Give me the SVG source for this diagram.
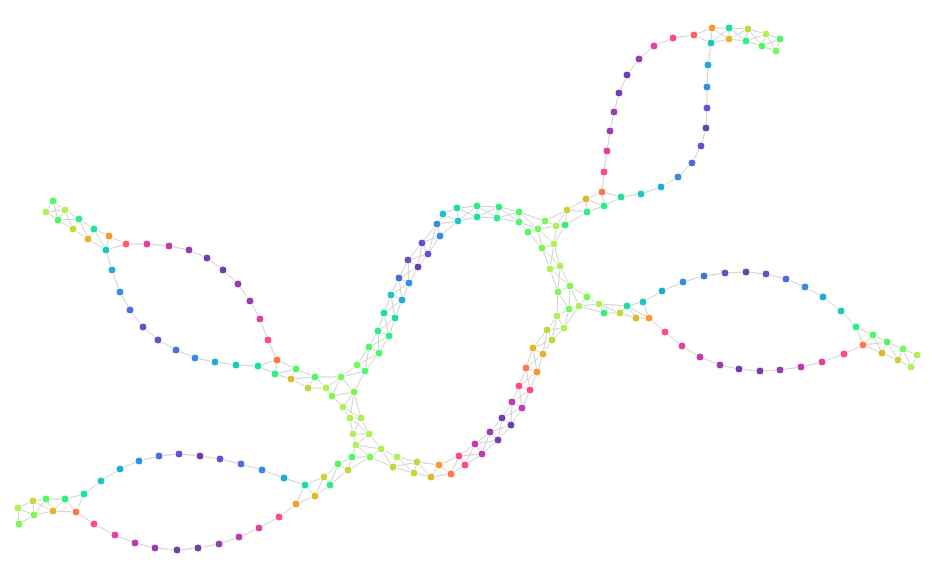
<svg xmlns="http://www.w3.org/2000/svg" width="932" height="566" viewBox="0 0 932 566">
<style>
.e path,.e polyline{stroke:#d0d0d0;stroke-width:1;fill:none}
circle{r:4;stroke:#fff;stroke-width:1}
.w0{fill:#6e40aa}.w1{fill:#963db3}.w2{fill:#bf3caf}.w3{fill:#e4419d}.w4{fill:#fe4b83}.w5{fill:#ff5e63}.w6{fill:#ff7847}.w7{fill:#fb9633}.w8{fill:#e2b72f}.w9{fill:#c6d63c}.l{fill:#aff05b}.c9{fill:#7ff658}.c8{fill:#52f667}.c7{fill:#30ef82}.c6{fill:#1ddfa3}.c5{fill:#1ac7c2}.c4{fill:#23abd8}.c3{fill:#368ce1}.c2{fill:#4c6edb}.c1{fill:#6054c8}
</style>
<rect width="932" height="566" fill="#fff"/>
<g id="connectors" class="e">
<polyline points="694,35 673,38 654,46 639,59 627,75 619,93 614,112 610,131 607,151 604,172 602,192"/>
<polyline points="711,43 708,65 707,87 707,108 706,128 701,146 692,163 678,177 661,187 641,194 621,197 602,192"/>
<polyline points="621,197 604,206"/>
<polyline points="126,244 147,244 169,246 189,250 207,258 223,270 238,284 250,301 260,319 268,340 277,360"/>
<polyline points="106,250 112,270 120,292 130,310 143,327 158,340 176,350 195,358 215,362 236,365 258,366"/>
<polyline points="84,494 101,481 120,469 139,461 159,456 179,454 200,456 220,459 241,464 262,470 284,478 305,485"/>
<polyline points="76,512 94,524 115,535 135,543 155,548 177,550 198,548 219,544 239,537 259,528 279,517 296,504"/>
<polyline points="643,302 662,291 683,282 704,276 725,273 746,272 766,274 786,279 805,287 823,297 841,311 856,327"/>
<polyline points="649,318 665,332 682,346 700,357 720,365 739,369 760,371 780,370 801,367 822,362 844,354 863,345"/>
<path d="M694,35L712,28M694,35L711,43M712,28L711,43M712,28L729,28M712,28L729,39M711,43L729,28M711,43L729,39M729,28L729,39M729,28L748,29M729,28L746,41M729,39L748,29M729,39L746,41M748,29L746,41M748,29L766,34M748,29L762,46M746,41L766,34M746,41L762,46M766,34L762,46M766,34L780,39M766,34L776,51M762,46L780,39M762,46L776,51M780,39L776,51"/>
<path d="M53,201L46,212M53,201L65,210M53,201L58,220M46,212L65,210M46,212L58,220M65,210L58,220M65,210L79,219M65,210L73,229M58,220L79,219M58,220L73,229M79,219L73,229M79,219L94,229M79,219L88,239M73,229L88,239M94,229L88,239M94,229L109,236M94,229L106,250M88,239L106,250M109,236L106,250M109,236L126,244M106,250L126,244"/>
<path d="M18,508L33,501M18,508L34,515M18,508L19,524M19,524L34,515M33,501L34,515M33,501L46,499M33,501L53,511M34,515L46,499M34,515L53,511M46,499L53,511M46,499L65,499M53,511L65,499M53,511L76,512M65,499L76,512M65,499L84,494M76,512L84,494"/>
<path d="M856,327L873,335M856,327L863,345M873,335L863,345M873,335L887,342M873,335L882,353M863,345L882,353M863,345L887,342M887,342L882,353M887,342L903,349M887,342L898,360M882,353L898,360M903,349L898,360M903,349L917,355M903,349L911,367M898,360L911,367M917,355L911,367"/>
<path d="M519,212L519,222M519,212L499,207M519,212L497,218M519,222L499,207M519,222L497,218M499,207L497,218M499,207L477,206M499,207L477,217M497,218L477,206M497,218L477,217M477,206L477,217M477,206L457,208M477,206L458,221M477,217L457,208M477,217L458,221M457,208L458,221M457,208L443,214M458,221L443,214M458,221L437,224M458,221L440,236M443,214L437,224M437,224L440,236M437,224L422,243M440,236L422,243M440,236L428,254M437,224L428,254M422,243L428,254M422,243L408,260M422,243L418,267M428,254L408,260M428,254L418,267M408,260L418,267M408,260L399,278M408,260L409,283M418,267L399,278M418,267L409,283M399,278L409,283M399,278L391,295M399,278L402,300M409,283L391,295M409,283L402,300M391,295L402,300M391,295L384,313M391,295L395,318M402,300L384,313M402,300L395,318M384,313L395,318M384,313L378,331M384,313L389,336M395,318L378,331M395,318L389,336M378,331L389,336M378,331L369,347M378,331L379,353M389,336L369,347M389,336L379,353M369,347L379,353M369,347L357,365M369,347L365,371M379,353L357,365M379,353L365,371M357,365L365,371"/>
<path d="M258,366L277,360M258,366L275,374M277,360L275,374M277,360L296,369M275,374L291,379M275,374L296,369M296,369L291,379M296,369L315,377M291,379L315,377M291,379L308,388M315,377L308,388M315,377L326,388M315,377L341,377M308,388L326,388M326,388L341,377M326,388L332,396M341,377L332,396M341,377L354,392M341,377L357,365M341,377L365,371M365,371L354,392M332,396L354,392M332,396L343,407M354,392L343,407M354,392L350,418M354,392L361,418M343,407L350,418M343,407L361,418M350,418L361,418M350,418L353,434M350,418L369,434M361,418L369,434M361,418L353,434M353,434L369,434M353,434L356,445M369,434L356,445M369,434L381,449M356,445L352,457M356,445L370,457M356,445L381,449M370,457L381,449M352,457L370,457M352,457L338,464M352,457L348,470M370,457L348,470M338,464L348,470M338,464L324,477M338,464L330,485M348,470L330,485M324,477L330,485M324,477L305,485M324,477L315,496M330,485L315,496M305,485L315,496M305,485L296,504M315,496L296,504"/>
<path d="M602,192L586,199M602,192L604,206M586,199L604,206M586,199L587,212M604,206L587,212M586,199L567,210M587,212L567,210M587,212L565,225M567,210L565,225M567,210L556,226M567,210L545,221M565,225L556,226M565,225L554,244M556,226L545,221M556,226L554,244M556,226L538,229M545,221L538,229M545,221L519,212M538,229L528,232M538,229L542,248M538,229L554,244M528,232L542,248M528,232L519,222M519,212L538,229M519,222L538,229M542,248L554,244"/>
<path d="M542,248L550,269M542,248L560,266M554,244L550,269M554,244L560,266M550,269L560,266M550,269L558,292M550,269L570,286M560,266L558,292M560,266L570,286M558,292L570,286"/>
<path d="M558,292L569,309M558,292L557,316M570,286L569,309M570,286L579,306M570,286L587,297M569,309L579,306M569,309L557,316M569,309L564,328M579,306L587,297M579,306L599,304M579,306L604,313M579,306L564,328M587,297L599,304M599,304L604,313M599,304L627,306M599,304L620,313M604,313L620,313M620,313L627,306M620,313L636,318M627,306L643,302M627,306L636,318M627,306L649,318M636,318L649,318M643,302L649,318M557,316L564,328"/>
<path d="M557,316L547,330M557,316L552,340M564,328L547,330M564,328L552,340M547,330L552,340M547,330L533,348M547,330L543,354M552,340L533,348M552,340L543,354M533,348L543,354M533,348L526,368M533,348L537,372M543,354L526,368M543,354L537,372M526,368L537,372M526,368L519,386M526,368L530,390M537,372L519,386M537,372L530,390M519,386L530,390M519,386L512,402M519,386L522,408M530,390L512,402M530,390L522,408M512,402L522,408M512,402L502,418M512,402L511,425M522,408L502,418M522,408L511,425M502,418L511,425M502,418L490,432M502,418L498,440M511,425L490,432M511,425L498,440M490,432L498,440M490,432L475,444M490,432L482,454M498,440L475,444M498,440L482,454M475,444L482,454M475,444L459,456M475,444L465,465M482,454L459,456M482,454L465,465M459,456L465,465M459,456L439,465M459,456L451,474M465,465L451,474M439,465L451,474M439,465L431,477M451,474L431,477M439,465L417,462M431,477L417,462M431,477L414,473M417,462L414,473M417,462L397,457M417,462L393,467M414,473L397,457M414,473L393,467M397,457L393,467M397,457L381,449M393,467L381,449M393,467L370,457"/>
</g>
<g id="n1"><circle cx="694" cy="35" class="w5"/></g>
<g id="n2"><circle cx="712" cy="28" class="w7"/></g>
<g id="n3"><circle cx="711" cy="43" class="c5"/></g>
<g id="n4"><circle cx="729" cy="28" class="c6"/></g>
<g id="n5"><circle cx="729" cy="39" class="w8"/></g>
<g id="n6"><circle cx="748" cy="29" class="w9"/></g>
<g id="n7"><circle cx="746" cy="41" class="c7"/></g>
<g id="n8"><circle cx="766" cy="34" class="l"/></g>
<g id="n9"><circle cx="762" cy="46" class="c8"/></g>
<g id="n10"><circle cx="780" cy="39" class="c8"/></g>
<g id="n11"><circle cx="776" cy="51" class="c9"/></g>
<g id="n12"><circle cx="673" cy="38" class="w4"/></g>
<g id="n13"><circle cx="654" cy="46" class="w3"/></g>
<g id="n14"><circle cx="639" cy="59" class="w1"/></g>
<g id="n15"><circle cx="627" cy="75" class="w0"/></g>
<g id="n16"><circle cx="619" cy="93" class="w0"/></g>
<g id="n17"><circle cx="614" cy="112" class="w1"/></g>
<g id="n18"><circle cx="610" cy="131" class="w1"/></g>
<g id="n19"><circle cx="607" cy="151" class="w3"/></g>
<g id="n20"><circle cx="604" cy="172" class="w4"/></g>
<g id="n21"><circle cx="708" cy="65" class="c4"/></g>
<g id="n22"><circle cx="707" cy="87" class="c3"/></g>
<g id="n23"><circle cx="707" cy="108" class="c1"/></g>
<g id="n24"><circle cx="706" cy="128" class="w0"/></g>
<g id="n25"><circle cx="701" cy="146" class="c1"/></g>
<g id="n26"><circle cx="692" cy="163" class="c2"/></g>
<g id="n27"><circle cx="678" cy="177" class="c3"/></g>
<g id="n28"><circle cx="661" cy="187" class="c4"/></g>
<g id="n29"><circle cx="641" cy="194" class="c5"/></g>
<g id="n30"><circle cx="621" cy="197" class="c6"/></g>
<g id="n31"><circle cx="602" cy="192" class="w6"/></g>
<g id="n32"><circle cx="604" cy="206" class="c7"/></g>
<g id="n33"><circle cx="586" cy="199" class="w8"/></g>
<g id="n34"><circle cx="587" cy="212" class="c7"/></g>
<g id="n35"><circle cx="567" cy="210" class="w9"/></g>
<g id="n36"><circle cx="565" cy="225" class="c7"/></g>
<g id="n37"><circle cx="556" cy="226" class="l"/></g>
<g id="n38"><circle cx="545" cy="221" class="c9"/></g>
<g id="n39"><circle cx="538" cy="229" class="c9"/></g>
<g id="n40"><circle cx="528" cy="232" class="c8"/></g>
<g id="n41"><circle cx="542" cy="248" class="c9"/></g>
<g id="n42"><circle cx="554" cy="244" class="l"/></g>
<g id="n43"><circle cx="519" cy="212" class="c8"/></g>
<g id="n44"><circle cx="519" cy="222" class="c8"/></g>
<g id="n45"><circle cx="499" cy="207" class="c7"/></g>
<g id="n46"><circle cx="497" cy="218" class="c7"/></g>
<g id="n47"><circle cx="477" cy="206" class="c7"/></g>
<g id="n48"><circle cx="477" cy="217" class="c6"/></g>
<g id="n49"><circle cx="457" cy="208" class="c6"/></g>
<g id="n50"><circle cx="458" cy="221" class="c5"/></g>
<g id="n51"><circle cx="443" cy="214" class="c5"/></g>
<g id="n52"><circle cx="437" cy="224" class="c3"/></g>
<g id="n53"><circle cx="440" cy="236" class="c3"/></g>
<g id="n54"><circle cx="422" cy="243" class="c1"/></g>
<g id="n55"><circle cx="428" cy="254" class="c1"/></g>
<g id="n56"><circle cx="408" cy="260" class="c1"/></g>
<g id="n57"><circle cx="418" cy="267" class="w0"/></g>
<g id="n58"><circle cx="399" cy="278" class="c2"/></g>
<g id="n59"><circle cx="409" cy="283" class="c3"/></g>
<g id="n60"><circle cx="391" cy="295" class="c5"/></g>
<g id="n61"><circle cx="402" cy="300" class="c4"/></g>
<g id="n62"><circle cx="384" cy="313" class="c6"/></g>
<g id="n63"><circle cx="395" cy="318" class="c6"/></g>
<g id="n64"><circle cx="378" cy="331" class="c7"/></g>
<g id="n65"><circle cx="389" cy="336" class="c7"/></g>
<g id="n66"><circle cx="369" cy="347" class="c8"/></g>
<g id="n67"><circle cx="379" cy="353" class="c8"/></g>
<g id="n68"><circle cx="357" cy="365" class="c9"/></g>
<g id="n69"><circle cx="365" cy="371" class="c8"/></g>
<g id="n70"><circle cx="258" cy="366" class="c6"/></g>
<g id="n71"><circle cx="277" cy="360" class="w6"/></g>
<g id="n72"><circle cx="275" cy="374" class="c7"/></g>
<g id="n73"><circle cx="296" cy="369" class="c8"/></g>
<g id="n74"><circle cx="291" cy="379" class="w8"/></g>
<g id="n75"><circle cx="315" cy="377" class="c8"/></g>
<g id="n76"><circle cx="308" cy="388" class="w9"/></g>
<g id="n77"><circle cx="326" cy="388" class="l"/></g>
<g id="n78"><circle cx="341" cy="377" class="c9"/></g>
<g id="n79"><circle cx="332" cy="396" class="c9"/></g>
<g id="n80"><circle cx="354" cy="392" class="c9"/></g>
<g id="n81"><circle cx="343" cy="407" class="l"/></g>
<g id="n82"><circle cx="350" cy="418" class="l"/></g>
<g id="n83"><circle cx="361" cy="418" class="l"/></g>
<g id="n84"><circle cx="353" cy="434" class="l"/></g>
<g id="n85"><circle cx="369" cy="434" class="l"/></g>
<g id="n86"><circle cx="356" cy="445" class="l"/></g>
<g id="n87"><circle cx="352" cy="457" class="c8"/></g>
<g id="n88"><circle cx="370" cy="457" class="c9"/></g>
<g id="n89"><circle cx="381" cy="449" class="l"/></g>
<g id="n90"><circle cx="338" cy="464" class="c8"/></g>
<g id="n91"><circle cx="348" cy="470" class="w9"/></g>
<g id="n92"><circle cx="324" cy="477" class="w9"/></g>
<g id="n93"><circle cx="330" cy="485" class="c7"/></g>
<g id="n94"><circle cx="305" cy="485" class="c6"/></g>
<g id="n95"><circle cx="315" cy="496" class="w8"/></g>
<g id="n96"><circle cx="296" cy="504" class="w7"/></g>
<g id="n97"><circle cx="53" cy="201" class="c8"/></g>
<g id="n98"><circle cx="46" cy="212" class="l"/></g>
<g id="n99"><circle cx="65" cy="210" class="l"/></g>
<g id="n100"><circle cx="58" cy="220" class="c8"/></g>
<g id="n101"><circle cx="79" cy="219" class="c7"/></g>
<g id="n102"><circle cx="73" cy="229" class="w9"/></g>
<g id="n103"><circle cx="94" cy="229" class="c6"/></g>
<g id="n104"><circle cx="88" cy="239" class="w8"/></g>
<g id="n105"><circle cx="109" cy="236" class="w7"/></g>
<g id="n106"><circle cx="106" cy="250" class="c5"/></g>
<g id="n107"><circle cx="126" cy="244" class="w5"/></g>
<g id="n108"><circle cx="147" cy="244" class="w3"/></g>
<g id="n109"><circle cx="169" cy="246" class="w2"/></g>
<g id="n110"><circle cx="189" cy="250" class="w1"/></g>
<g id="n111"><circle cx="207" cy="258" class="w0"/></g>
<g id="n112"><circle cx="223" cy="270" class="w0"/></g>
<g id="n113"><circle cx="238" cy="284" class="w1"/></g>
<g id="n114"><circle cx="250" cy="301" class="w1"/></g>
<g id="n115"><circle cx="260" cy="319" class="w3"/></g>
<g id="n116"><circle cx="268" cy="340" class="w4"/></g>
<g id="n117"><circle cx="112" cy="270" class="c4"/></g>
<g id="n118"><circle cx="120" cy="292" class="c3"/></g>
<g id="n119"><circle cx="130" cy="310" class="c2"/></g>
<g id="n120"><circle cx="143" cy="327" class="c1"/></g>
<g id="n121"><circle cx="158" cy="340" class="c1"/></g>
<g id="n122"><circle cx="176" cy="350" class="c2"/></g>
<g id="n123"><circle cx="195" cy="358" class="c3"/></g>
<g id="n124"><circle cx="215" cy="362" class="c4"/></g>
<g id="n125"><circle cx="236" cy="365" class="c5"/></g>
<g id="n126"><circle cx="18" cy="508" class="l"/></g>
<g id="n127"><circle cx="19" cy="524" class="c9"/></g>
<g id="n128"><circle cx="33" cy="501" class="w9"/></g>
<g id="n129"><circle cx="34" cy="515" class="c9"/></g>
<g id="n130"><circle cx="46" cy="499" class="c8"/></g>
<g id="n131"><circle cx="53" cy="511" class="w8"/></g>
<g id="n132"><circle cx="65" cy="499" class="c7"/></g>
<g id="n133"><circle cx="76" cy="512" class="w6"/></g>
<g id="n134"><circle cx="84" cy="494" class="c6"/></g>
<g id="n135"><circle cx="101" cy="481" class="c5"/></g>
<g id="n136"><circle cx="120" cy="469" class="c4"/></g>
<g id="n137"><circle cx="139" cy="461" class="c3"/></g>
<g id="n138"><circle cx="159" cy="456" class="c2"/></g>
<g id="n139"><circle cx="179" cy="454" class="c1"/></g>
<g id="n140"><circle cx="200" cy="456" class="w0"/></g>
<g id="n141"><circle cx="220" cy="459" class="c1"/></g>
<g id="n142"><circle cx="241" cy="464" class="c2"/></g>
<g id="n143"><circle cx="262" cy="470" class="c3"/></g>
<g id="n144"><circle cx="284" cy="478" class="c4"/></g>
<g id="n145"><circle cx="94" cy="524" class="w4"/></g>
<g id="n146"><circle cx="115" cy="535" class="w3"/></g>
<g id="n147"><circle cx="135" cy="543" class="w2"/></g>
<g id="n148"><circle cx="155" cy="548" class="w1"/></g>
<g id="n149"><circle cx="177" cy="550" class="w0"/></g>
<g id="n150"><circle cx="198" cy="548" class="w0"/></g>
<g id="n151"><circle cx="219" cy="544" class="w1"/></g>
<g id="n152"><circle cx="239" cy="537" class="w2"/></g>
<g id="n153"><circle cx="259" cy="528" class="w3"/></g>
<g id="n154"><circle cx="279" cy="517" class="w4"/></g>
<g id="n155"><circle cx="569" cy="309" class="c9"/></g>
<g id="n156"><circle cx="579" cy="306" class="l"/></g>
<g id="n157"><circle cx="558" cy="292" class="c9"/></g>
<g id="n158"><circle cx="570" cy="286" class="c9"/></g>
<g id="n159"><circle cx="587" cy="297" class="c9"/></g>
<g id="n160"><circle cx="599" cy="304" class="l"/></g>
<g id="n161"><circle cx="604" cy="313" class="c7"/></g>
<g id="n162"><circle cx="620" cy="313" class="w9"/></g>
<g id="n163"><circle cx="627" cy="306" class="c6"/></g>
<g id="n164"><circle cx="636" cy="318" class="w8"/></g>
<g id="n165"><circle cx="643" cy="302" class="c5"/></g>
<g id="n166"><circle cx="649" cy="318" class="w7"/></g>
<g id="n167"><circle cx="557" cy="316" class="l"/></g>
<g id="n168"><circle cx="564" cy="328" class="l"/></g>
<g id="n169"><circle cx="550" cy="269" class="l"/></g>
<g id="n170"><circle cx="560" cy="266" class="l"/></g>
<g id="n171"><circle cx="547" cy="330" class="w9"/></g>
<g id="n172"><circle cx="552" cy="340" class="w9"/></g>
<g id="n173"><circle cx="533" cy="348" class="w8"/></g>
<g id="n174"><circle cx="543" cy="354" class="w8"/></g>
<g id="n175"><circle cx="526" cy="368" class="w6"/></g>
<g id="n176"><circle cx="537" cy="372" class="w7"/></g>
<g id="n177"><circle cx="519" cy="386" class="w4"/></g>
<g id="n178"><circle cx="530" cy="390" class="w4"/></g>
<g id="n179"><circle cx="512" cy="402" class="w2"/></g>
<g id="n180"><circle cx="522" cy="408" class="w2"/></g>
<g id="n181"><circle cx="502" cy="418" class="w0"/></g>
<g id="n182"><circle cx="511" cy="425" class="w0"/></g>
<g id="n183"><circle cx="490" cy="432" class="w1"/></g>
<g id="n184"><circle cx="498" cy="440" class="w0"/></g>
<g id="n185"><circle cx="475" cy="444" class="w2"/></g>
<g id="n186"><circle cx="482" cy="454" class="w2"/></g>
<g id="n187"><circle cx="459" cy="456" class="w4"/></g>
<g id="n188"><circle cx="465" cy="465" class="w4"/></g>
<g id="n189"><circle cx="439" cy="465" class="w7"/></g>
<g id="n190"><circle cx="451" cy="474" class="w6"/></g>
<g id="n191"><circle cx="431" cy="477" class="w8"/></g>
<g id="n192"><circle cx="417" cy="462" class="w9"/></g>
<g id="n193"><circle cx="414" cy="473" class="w9"/></g>
<g id="n194"><circle cx="397" cy="457" class="l"/></g>
<g id="n195"><circle cx="393" cy="467" class="w9"/></g>
<g id="n196"><circle cx="662" cy="291" class="c4"/></g>
<g id="n197"><circle cx="683" cy="282" class="c3"/></g>
<g id="n198"><circle cx="704" cy="276" class="c2"/></g>
<g id="n199"><circle cx="725" cy="273" class="c1"/></g>
<g id="n200"><circle cx="746" cy="272" class="w0"/></g>
<g id="n201"><circle cx="766" cy="274" class="c1"/></g>
<g id="n202"><circle cx="786" cy="279" class="c2"/></g>
<g id="n203"><circle cx="805" cy="287" class="c3"/></g>
<g id="n204"><circle cx="823" cy="297" class="c4"/></g>
<g id="n205"><circle cx="841" cy="311" class="c5"/></g>
<g id="n206"><circle cx="856" cy="327" class="c7"/></g>
<g id="n207"><circle cx="665" cy="332" class="w4"/></g>
<g id="n208"><circle cx="682" cy="346" class="w3"/></g>
<g id="n209"><circle cx="700" cy="357" class="w2"/></g>
<g id="n210"><circle cx="720" cy="365" class="w1"/></g>
<g id="n211"><circle cx="739" cy="369" class="w0"/></g>
<g id="n212"><circle cx="760" cy="371" class="w0"/></g>
<g id="n213"><circle cx="780" cy="370" class="w1"/></g>
<g id="n214"><circle cx="801" cy="367" class="w2"/></g>
<g id="n215"><circle cx="822" cy="362" class="w3"/></g>
<g id="n216"><circle cx="844" cy="354" class="w4"/></g>
<g id="n217"><circle cx="863" cy="345" class="w6"/></g>
<g id="n218"><circle cx="873" cy="335" class="c8"/></g>
<g id="n219"><circle cx="887" cy="342" class="c8"/></g>
<g id="n220"><circle cx="903" cy="349" class="c9"/></g>
<g id="n221"><circle cx="917" cy="355" class="l"/></g>
<g id="n222"><circle cx="911" cy="367" class="l"/></g>
<g id="n223"><circle cx="898" cy="360" class="w9"/></g>
<g id="n224"><circle cx="882" cy="353" class="w8"/></g>
</svg>
